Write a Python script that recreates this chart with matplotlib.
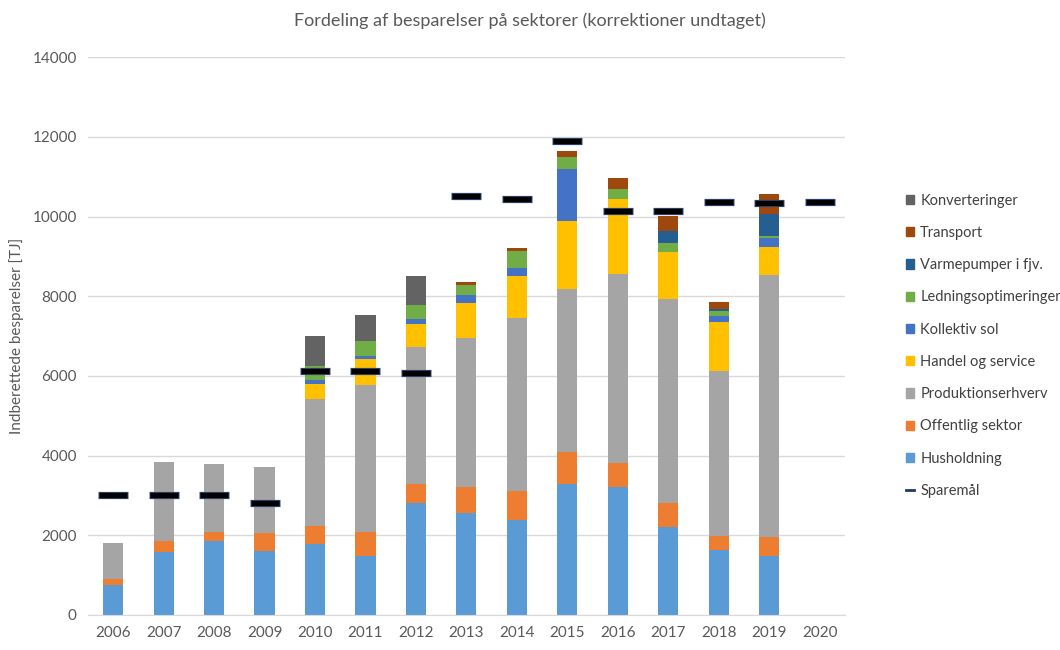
import matplotlib
matplotlib.use("Agg")
import matplotlib.pyplot as plt
import numpy as np
from matplotlib.lines import Line2D
from matplotlib.patches import Patch

plt.rcParams['font.family'] = ['Lato', 'DejaVu Sans']

years = ['2006', '2007', '2008', '2009', '2010', '2011', '2012', '2013',
         '2014', '2015', '2016', '2017', '2018', '2019', '2020']

# segments, bottom to top (TJ)
husholdning = [740, 1570, 1850, 1610, 1780, 1470, 2800, 2550, 2370, 3280, 3200, 2200, 1640, 1470, 0]
offentlig = [170, 280, 240, 450, 450, 620, 480, 660, 740, 800, 610, 600, 350, 490, 0]
produktion = [900, 1980, 1710, 1660, 3180, 3670, 3450, 3730, 4350, 4100, 4740, 5120, 4140, 6580, 0]
handel = [0, 0, 0, 0, 380, 660, 560, 900, 1040, 1720, 1900, 1180, 1220, 700, 0]
kollektiv_sol = [0, 0, 0, 0, 110, 70, 130, 180, 210, 1290, 0, 0, 150, 210, 0]
ledning = [0, 0, 0, 0, 350, 390, 350, 270, 420, 310, 240, 240, 140, 60, 0]
varmepumper = [0, 0, 0, 0, 0, 0, 0, 0, 0, 0, 0, 290, 30, 560, 0]
transport = [0, 0, 0, 0, 0, 0, 0, 70, 70, 140, 290, 380, 180, 500, 0]
konverteringer = [0, 0, 0, 0, 750, 650, 740, 0, 0, 0, 0, 0, 0, 0, 0]

sparemaal = [3000, 3000, 3000, 2820, 6130, 6130, 6060, 10520, 10440, 11900,
             10130, 10130, 10375, 10340, 10375]

series = [
    ('Husholdning', husholdning, '#5B9BD5'),
    ('Offentlig sektor', offentlig, '#ED7D31'),
    ('Produktionserhverv', produktion, '#A5A5A5'),
    ('Handel og service', handel, '#FFC000'),
    ('Kollektiv sol', kollektiv_sol, '#4472C4'),
    ('Ledningsoptimeringer', ledning, '#70AD47'),
    ('Varmepumper i fjv.', varmepumper, '#255E91'),
    ('Transport', transport, '#9E480E'),
    ('Konverteringer', konverteringer, '#636363'),
]

fig = plt.figure(figsize=(10.6, 6.5), dpi=100)
ax = fig.add_axes([0.083, 0.054, 0.714, 0.858])

x = np.arange(len(years))
bottom = np.zeros(len(years))
for name, vals, col in series:
    vals = np.array(vals, dtype=float)
    ax.bar(x, vals, 0.4, bottom=bottom, color=col, zorder=2)
    bottom += vals

# target markers: navy outline, black fill
ax.plot(x, sparemaal, ls='none', marker='_', ms=22, mew=5.2, color='#2F4A7A', zorder=3)
ax.plot(x, sparemaal, ls='none', marker='_', ms=20.5, mew=3.8, color='black', zorder=4)

ax.set_xlim(-0.5, len(years) - 0.5)
ax.set_ylim(0, 14000)
ax.set_yticks(np.arange(0, 14001, 2000))
ax.set_xticks(x)
ax.set_xticklabels(years)
ax.tick_params(length=0, labelsize=11, colors='#595959', pad=8)
ax.grid(axis='y', color='#D9D9D9', lw=1, zorder=0)
for s in ['top', 'right', 'left']:
    ax.spines[s].set_visible(False)
ax.spines['bottom'].set_color('#D9D9D9')
ax.set_ylabel('Indberettede besparelser [TJ]', fontsize=11, color='#595959', labelpad=6)

fig.text(0.5, 0.968, 'Fordeling af besparelser på sektorer (korrektioner undtaget)',
         ha='center', va='center', fontsize=13, color='#595959')

handles = [Patch(color=c, label=n) for n, v, c in series[::-1]]
handles.append(Line2D([], [], color='#1F3864', lw=2, label='Sparemål'))
leg = fig.legend(handles=handles, loc='center left', bbox_to_anchor=(0.842, 0.468),
                 frameon=False, fontsize=10.5, handlelength=0.6, handleheight=0.6,
                 handletextpad=0.4, labelspacing=1.25)
for t in leg.get_texts():
    t.set_color('#404040')

fig.savefig('out.png', dpi=100)
